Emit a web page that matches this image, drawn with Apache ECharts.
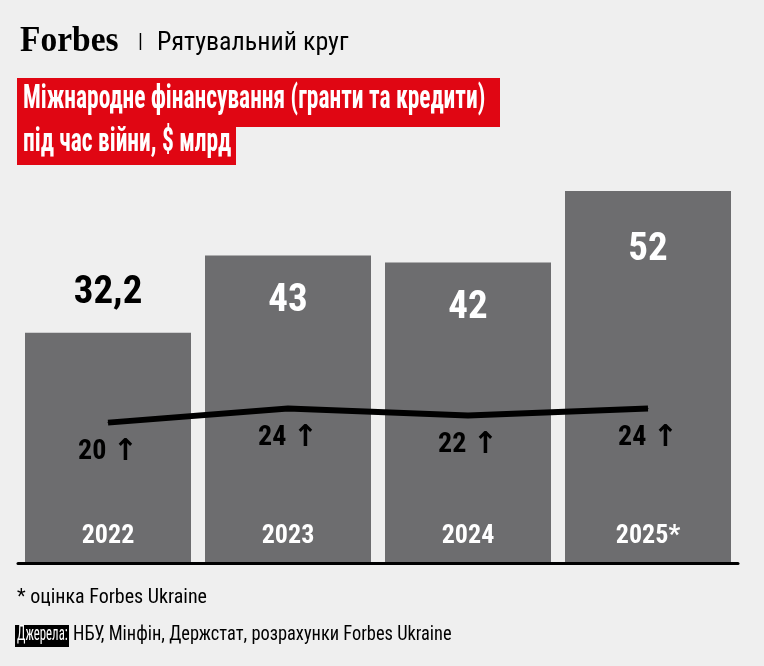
<!DOCTYPE html>
<html><head><meta charset="utf-8">
<script src="https://cdn.jsdelivr.net/npm/echarts@6/dist/echarts.min.js"></script>
<style>html,body{margin:0;padding:0;background:#efefef}#c{width:764px;height:666px}</style>
</head><body><div id="c"></div>
<script>
const categories = ['2022','2023','2024','2025*'];
const financing = [32.2, 43, 42, 52];
const lineValues = [20, 24, 22, 24];
const F = '"Roboto Condensed","Roboto","Noto Sans",sans-serif';
const chart = echarts.init(document.getElementById('c'));
const fmt = v => String(v).replace('.', ',');
chart.setOption({
  backgroundColor: '#efefef',
  animation: false,
  grid: {left: 18, width: 720, top: 191, bottom: 103},
  xAxis: {type: 'category', data: categories,
    axisLine: {show: true, lineStyle: {color: '#000', width: 3}},
    axisTick: {show: false},
    axisLabel: {inside: true, margin: 14, color: '#fff', fontFamily: F, fontWeight: 'bold', fontSize: 26}, z: 10},
  yAxis: [
    {type: 'value', min: 0, max: 52, show: false},
    {type: 'value', min: -20, max: 86, show: false}
  ],
  series: [
    {type: 'bar', data: financing.map((v, i) => ({value: v,
        label: i === 0 ? {position: 'top', color: '#000', distance: 20} : {position: 'insideTop', color: '#fff', distance: i === 3 ? 40 : 26}})),
     barWidth: 166, itemStyle: {color: '#6d6d6f'},
     label: {show: true, fontFamily: F, fontWeight: 'bold', fontSize: 39, formatter: p => fmt(p.value)}},
    {type: 'line', yAxisIndex: 1, data: lineValues, symbol: 'circle', symbolSize: 1, showSymbol: true, z: 5,
     lineStyle: {color: '#000', width: 6}, itemStyle: {color: '#000'},
     labelLayout: {hideOverlap: false},
     label: {show: true, position: 'bottom', distance: 14, color: '#000', fontFamily: F, fontWeight: 'bold', fontSize: 28,
       formatter: p => p.value + ' {a|↑}',
       rich: {a: {fontFamily: '"DejaVu Sans"', fontWeight: 'bold', fontSize: 30, color: '#000'}}}}
  ],
  graphic: [
    {type: 'text', x: 20, y: 24, style: {text: 'Forbes', font: 'bold 36px "Liberation Serif","DejaVu Serif",serif', fill: '#000'}, scaleX: 0.93},
    {type: 'text', x: 138, y: 33, style: {text: '|', font: '20px ' + F, fill: '#000'}},
    {type: 'text', x: 157, y: 30, style: {text: 'Рятувальний круг', font: '26px ' + F, fill: '#000'}},
    {type: 'rect', shape: {x: 17, y: 78, width: 483, height: 49}, style: {fill: '#e00613'}},
    {type: 'rect', shape: {x: 17, y: 126, width: 219, height: 39}, style: {fill: '#e00613'}},
    {type: 'text', x: 23, y: 82, style: {text: 'Міжнародне фінансування (гранти та кредити)', font: 'bold 34px ' + F, fill: '#fff'}, scaleX: 0.69},
    {type: 'text', x: 23, y: 125, style: {text: 'під час війни, $ млрд', font: 'bold 34px ' + F, fill: '#fff'}, scaleX: 0.69},
    {type: 'text', x: 17, y: 588, style: {text: '* оцінка Forbes Ukraine', font: '20px ' + F, fill: '#000'}},
    {type: 'rect', shape: {x: 15, y: 625, width: 54, height: 22}, style: {fill: '#000'}},
    {type: 'text', x: 17, y: 625, style: {text: 'Джерела:', font: '20px ' + F, fill: '#fff'}, scaleX: 0.64},
    {type: 'text', x: 73, y: 625, style: {text: 'НБУ, Мінфін, Держстат, розрахунки Forbes Ukraine', font: '20px ' + F, fill: '#000'}, scaleX: 0.92}
  ]
});
</script></body></html>
